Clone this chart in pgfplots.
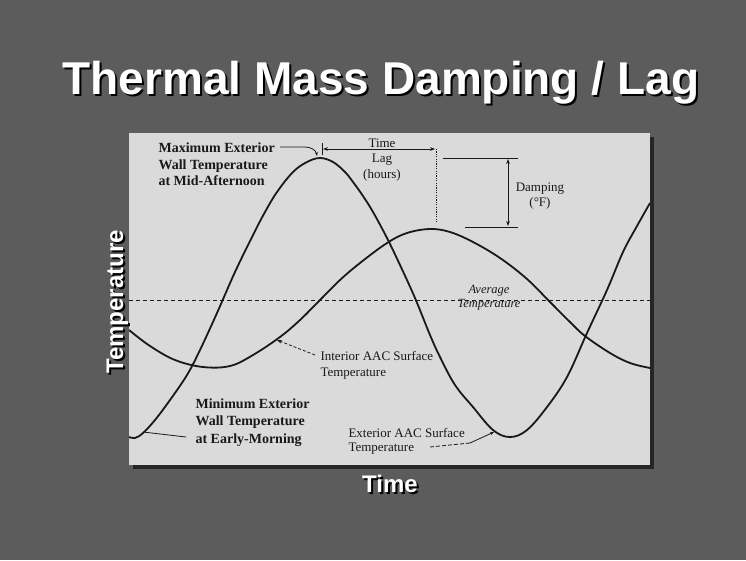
\documentclass[border=0pt]{standalone}
\usepackage{pgfplots}
\pgfplotsset{compat=1.18}
\usepackage{fontspec}
\setmainfont{Liberation Serif}
\newfontfamily\arial{Liberation Sans}
\usetikzlibrary{arrows.meta}
\definecolor{bggray}{RGB}{92,92,92}
\definecolor{panel}{RGB}{218,218,218}
\definecolor{ink}{RGB}{25,25,25}
\begin{document}
\begin{tikzpicture}[x=1pt,y=1pt]
\useasboundingbox (0,0) rectangle (746,-560);
\fill[bggray] (0,0) rectangle (746,-560);
% panel shadow and panel
\fill[black!85] (133,-137) rectangle (654,-469);
\fill[panel] (129,-133) rectangle (650,-465);
% title
\node[anchor=base,text=black,font=\arial\bfseries\fontsize{46}{50}\selectfont] at (383,-96) {Thermal Mass Damping / Lag};
\node[anchor=base,text=white,font=\arial\bfseries\fontsize{46}{50}\selectfont] at (381,-94) {Thermal Mass Damping / Lag};
% axis labels
\node[anchor=base,rotate=90,text=black,font=\arial\bfseries\fontsize{24}{26}\selectfont] at (125,-304) {Temperature};
\node[anchor=base,rotate=90,text=white,font=\arial\bfseries\fontsize{24}{26}\selectfont] at (123,-302) {Temperature};
\node[anchor=base,text=black,font=\arial\bfseries\fontsize{24}{26}\selectfont] at (392,-494) {Time};
\node[anchor=base,text=white,font=\arial\bfseries\fontsize{24}{26}\selectfont] at (390,-492) {Time};

\begin{axis}[
  at={(389.5pt,-299pt)}, anchor=center,
  width=521pt, height=332pt, scale only axis,
  xmin=129, xmax=650, ymin=133, ymax=465, y dir=reverse,
  hide axis, clip=true]
% average temperature
\addplot[ink, line width=0.9pt, dash pattern=on 4pt off 3pt] coordinates {(129,300) (650,300)};
% exterior AAC surface temperature
\addplot[ink, line width=1.8pt, smooth, tension=0.6] coordinates {
(129,437) (135,438) (143,433) (155,420) (170,400) (187,375) (200,350)
(217,313) (235,272) (253,235) (265,212) (277,192) (293,172) (307,162)
(320,158) (333,162) (345,172) (353,182) (363,196) (373,212) (387,238)
(400,265) (415,298) (430,335) (440,357) (455,385) (473,407) (493,430)
(510,437) (527,430) (547,407) (567,377) (587,333) (607,290) (623,252)
(637,226) (650,203)};
% interior AAC surface temperature
\addplot[ink, line width=1.8pt, smooth, tension=0.6] coordinates {
(129,330) (150,346) (175,360) (203,367) (230,366) (253,355) (280,337)
(300,320) (320,300) (340,280) (360,263) (387,243) (407,233) (430,229)
(450,232) (473,242) (500,258) (527,279) (550,302) (570,322) (585,336)
(610,353) (630,363) (650,368)};
\end{axis}

% annotations
\begin{scope}[ink, font=\bfseries\fontsize{14}{16}\selectfont]
\node[anchor=base west] at (155,-152) {Maximum Exterior};
\node[anchor=base west] at (155,-169) {Wall Temperature};
\node[anchor=base west] at (155,-185) {at Mid-Afternoon};
\node[anchor=base west] at (192,-408) {Minimum Exterior};
\node[anchor=base west] at (192,-425) {Wall Temperature};
\node[anchor=base west] at (192,-443) {at Early-Morning};
\end{scope}
\begin{scope}[ink, font=\fontsize{13}{15}\selectfont]
\node[anchor=base] at (382,-147) {Time};
\node[anchor=base] at (382,-162) {Lag};
\node[anchor=base] at (382,-178) {(hours)};
\node[anchor=base] at (540,-191) {Damping};
\node[anchor=base] at (540,-206) {(\textdegree F)};
\node[anchor=base,font=\itshape\fontsize{12.5}{14}\selectfont] at (489,-293) {Average};
\node[anchor=base,font=\itshape\fontsize{12.5}{14}\selectfont] at (489,-307) {Temperature};
\node[anchor=base west] at (317,-360) {Interior AAC Surface};
\node[anchor=base west] at (317,-376) {Temperature};
\node[anchor=base west] at (345,-437) {Exterior AAC Surface};
\node[anchor=base west] at (345,-451) {Temperature};
\end{scope}
% leaders
\begin{scope}[ink, line width=0.8pt]
\draw[-{Stealth[length=4pt]}] (280,-147) -- (305,-147) to[out=0,in=100] (317,-156);
\draw (322,-143) -- (322,-155);
\draw[{Stealth[length=5pt]}-{Stealth[length=5pt]}] (323,-149) -- (435,-149);
\draw[dash pattern=on 1.2pt off 1.2pt] (436,-149) -- (436,-223);
\draw (443,-158) -- (518,-158);
\draw (465,-227) -- (518,-227);
\draw[{Stealth[length=5pt]}-{Stealth[length=5pt]}] (508,-159) -- (508,-226);
\draw[dash pattern=on 3pt off 2pt,-{Stealth[length=5pt]}] (315,-355) -- (277,-340);
\draw (186,-437) -- (143,-432);
\draw[dash pattern=on 4pt off 2pt] (430,-447) -- (470,-443);
\draw[-{Stealth[length=4pt]}] (470,-443) -- (494,-432);
\end{scope}
\end{tikzpicture}
\end{document}
